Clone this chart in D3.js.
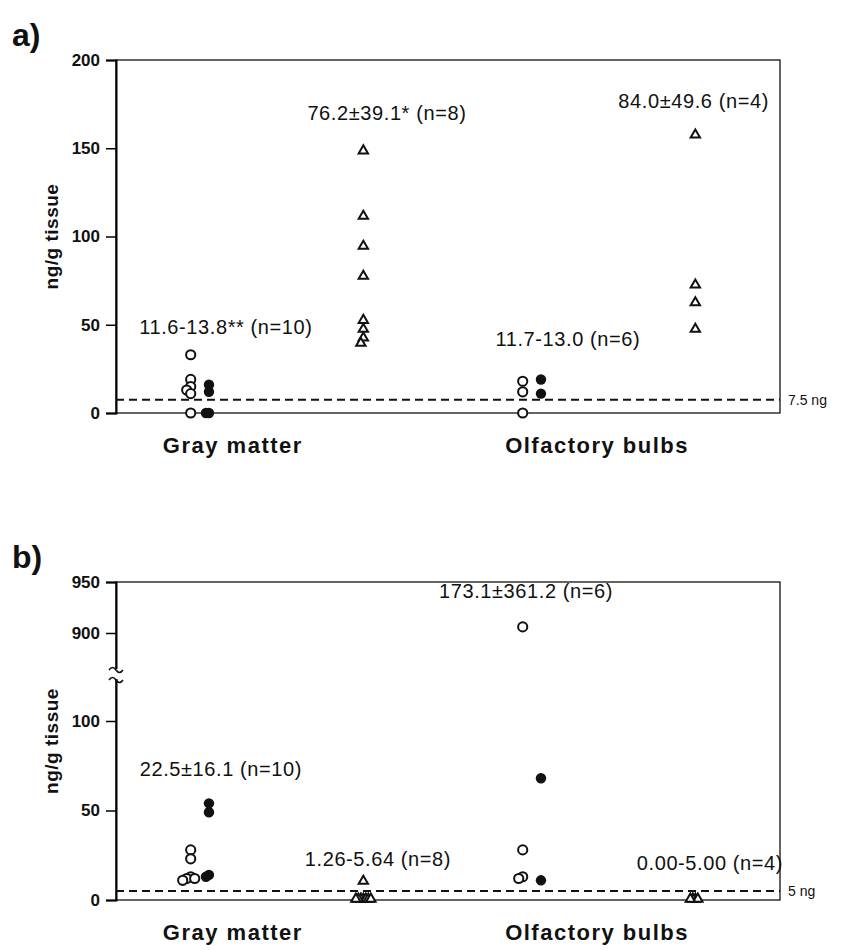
<!DOCTYPE html>
<html>
<head>
<meta charset="utf-8">
<script src="https://cdn.jsdelivr.net/npm/d3@7"></script>
<style>
  body { margin: 0; background: #fff; }
  svg text { font-family: "Liberation Sans", Arial, sans-serif; fill: #111; }
</style>
</head>
<body>
<svg id="chart"></svg>
<script>
var categories = ["Gray matter", "Olfactory bulbs"]

// panel a) values, ng/g tissue
var aOpen = [[33, 19, 15, 13, 11, 0], [18, 12, 0]]
var aFilled = [[16, 12, 0, 0], [19, 11]]
var aTri = [[148, 111, 94, 77, 52, 47, 42, 39], [157, 72, 62, 47]]
var aNotes = [
	["11.6-13.8**  (n=10)", "76.2±39.1* (n=8)"],
	["11.7-13.0  (n=6)", "84.0±49.6 (n=4)"]
]
var aNoteAt = [[45, 166], [38, 173]]
var aTicks = [0, 50, 100, 150, 200]

// panel b) values, ng/g tissue
var bOpen = [[28, 23, 13, 12, 12, 11], [906, 28, 13, 12]]
var bFilled = [[54, 49, 14, 13], [68, 11]]
var bTri = [[10, 0, 0, 0, 0, 0, 0, 0], [0, 0, 0, 0]]
var bNotes = [
	["22.5±16.1 (n=10)", "1.26-5.64 (n=8)"],
	["173.1±361.2 (n=6)", "0.00-5.00 (n=4)"]
]
var bNoteAt = [[69, 19], [934, 17]]
var bTicks = [0, 50, 100, 900, 950]

var width = 841
var height = 950
var left = 116
var right = 780

var svg = d3.select("#chart").attr("width", width).attr("height", height)

var xBand = d3.scaleBand().domain(categories).range([left, right])
var offs = { open: 0.225, filled: 0.28, tri: 0.745 }
var labelFrac = [0.352, 0.449]

function spread(vals, y, step) {
	var placed = []
	return vals.map(function (v) {
		var py = y(v)
		var k = 0
		var dx = 0
		while (placed.some(function (p) { return Math.abs(p.y - py) < 7 && Math.abs(p.x - dx) < step * 0.9 })) {
			k++
			dx = (k % 2 ? -1 : 1) * Math.ceil(k / 2) * step
		}
		placed.push({ x: dx, y: py })
		return dx
	})
}

function panel(cfg) {
	var g = svg.append("g")
	var y = cfg.y
	var top = y.range()[y.range().length - 1]
	var bottom = y.range()[0]

	// frame
	g.append("rect")
		.attr("x", left).attr("y", top)
		.attr("width", right - left).attr("height", bottom - top)
		.attr("fill", "none").attr("stroke", "#111").attr("stroke-width", 1.3)

	var axis = g.append("g")
		.attr("transform", "translate(" + left + ",0)")
		.call(d3.axisLeft(y).tickValues(cfg.ticks).tickSize(10).tickPadding(6).tickFormat(d3.format("d")))
	axis.select(".domain").attr("stroke-width", 2)
	axis.selectAll(".tick line").attr("stroke-width", 1.5)
	axis.selectAll("text").style("font-size", "17px").style("font-weight", "bold")

	if (cfg.brk) {
		var mid = cfg.brk
		g.append("rect").attr("x", left - 4).attr("y", mid - 5).attr("width", 8).attr("height", 10).attr("fill", "#fff")
		;[-5, 5].forEach(function (o) {
			g.append("path")
				.attr("d", "M" + (left - 7) + "," + (mid + o + 1) + " q3.5,-5 7,0 t7,0")
				.attr("fill", "none").attr("stroke", "#111").attr("stroke-width", 1.6)
		})
	}

	// detection limit
	g.append("line")
		.attr("x1", left).attr("x2", right)
		.attr("y1", y(cfg.limit)).attr("y2", y(cfg.limit))
		.attr("stroke", "#111").attr("stroke-width", 2).attr("stroke-dasharray", "8,5")
	g.append("text")
		.attr("x", right + 8).attr("y", y(cfg.limit) + 5)
		.style("font-size", "14px")
		.text(cfg.limitLabel)

	categories.forEach(function (c, i) {
		var bx = xBand(c)
		var bw = xBand.bandwidth()

		var ox = bx + bw * offs.open
		var dxo = spread(cfg.open[i], y, 4)
		g.selectAll(null).data(cfg.open[i]).enter().append("circle")
			.attr("cx", function (d, j) { return ox + dxo[j] })
			.attr("cy", function (d) { return y(d) })
			.attr("r", 4.6)
			.attr("fill", "#fff").attr("stroke", "#111").attr("stroke-width", 2)

		var fx = bx + bw * offs.filled
		var dxf = spread(cfg.filled[i], y, 3)
		g.selectAll(null).data(cfg.filled[i]).enter().append("circle")
			.attr("cx", function (d, j) { return fx + dxf[j] })
			.attr("cy", function (d) { return y(d) })
			.attr("r", 5.2)
			.attr("fill", "#111")

		var tx = bx + bw * offs.tri
		var dxt = spread(cfg.tri[i], y, 2.5)
		var tri = d3.symbol().type(d3.symbolTriangle).size(38)
		g.selectAll(null).data(cfg.tri[i]).enter().append("path")
			.attr("d", tri)
			.attr("transform", function (d, j) { return "translate(" + (tx + dxt[j]) + "," + (y(d) - 1) + ")" })
			.attr("fill", "#fff").attr("stroke", "#111").attr("stroke-width", 2)

		g.append("text")
			.attr("x", bx + bw * cfg.noteFrac[i][0]).attr("y", y(cfg.noteAt[i][0]))
			.attr("text-anchor", "middle")
			.style("font-size", "20px").style("letter-spacing", "0.6px")
			.text(cfg.notes[i][0])
		g.append("text")
			.attr("x", bx + bw * cfg.noteFrac[i][1]).attr("y", y(cfg.noteAt[i][1]))
			.attr("text-anchor", "middle")
			.style("font-size", "20px").style("letter-spacing", "0.6px")
			.text(cfg.notes[i][1])

		g.append("text")
			.attr("x", bx + bw * labelFrac[i]).attr("y", bottom + 40)
			.attr("text-anchor", "middle")
			.style("font-size", "22px").style("font-weight", "bold").style("letter-spacing", "1.5px")
			.text(c)
	})

	g.append("text")
		.attr("transform", "translate(58," + (top + bottom) / 2 + ") rotate(-90)")
		.attr("text-anchor", "middle")
		.style("font-size", "19px").style("font-weight", "bold").style("letter-spacing", "0.5px")
		.text("ng/g tissue")

	g.append("text")
		.attr("x", 12).attr("y", top - 14)
		.style("font-size", "32px").style("font-weight", "bold")
		.text(cfg.tag)
}

panel({
	tag: "a)",
	y: d3.scaleLinear().domain([0, 200]).range([413, 60]),
	ticks: aTicks,
	open: aOpen, filled: aFilled, tri: aTri,
	notes: aNotes, noteAt: aNoteAt,
	noteFrac: [[0.331, 0.816], [0.361, 0.74]],
	limit: 7.5, limitLabel: "7.5 ng"
})

panel({
	tag: "b)",
	y: d3.scaleLinear().domain([0, 100, 900, 950]).range([900, 721, 633, 582]),
	ticks: bTicks,
	brk: 674,
	open: bOpen, filled: bFilled, tri: bTri,
	notes: bNotes, noteAt: bNoteAt,
	noteFrac: [[0.316, 0.789], [0.235, 0.789]],
	limit: 5, limitLabel: "5 ng"
})
</script>
</body>
</html>
